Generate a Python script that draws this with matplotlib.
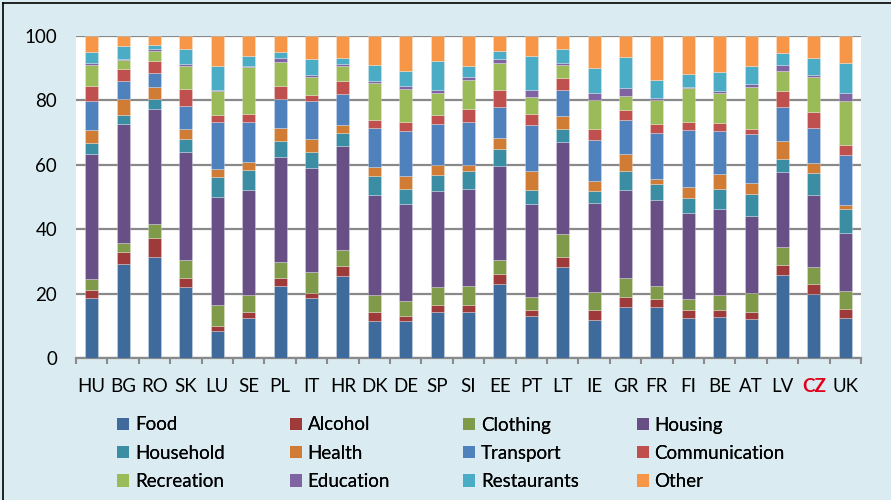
import matplotlib
matplotlib.use("Agg")
import matplotlib.pyplot as plt
from matplotlib.patches import Patch
from matplotlib.lines import Line2D
import numpy as np

countries = ["HU", "BG", "RO", "SK", "LU", "SE", "PL", "IT", "HR", "DK", "DE", "SP", "SI",
             "EE", "PT", "LT", "IE", "GR", "FR", "FI", "BE", "AT", "LV", "CZ", "UK"]

food          = [18.6, 29.2, 31.3, 21.9, 8.5, 12.5, 22.4, 18.6, 25.5, 11.5, 11.4, 14.3, 14.3,
                 23.1, 13.1, 28.3, 11.9, 15.8, 15.7, 12.5, 12.8, 12.0, 25.8, 20.0, 12.4]
alcohol       = [2.6, 3.7, 5.8, 2.9, 1.4, 1.9, 2.4, 1.6, 3.0, 2.7, 1.5, 2.1, 2.1,
                 3.0, 1.9, 3.1, 3.0, 3.1, 2.5, 2.3, 2.1, 2.3, 3.0, 3.0, 2.8]
clothing      = [3.2, 2.7, 4.4, 5.5, 6.4, 5.0, 5.1, 6.4, 5.1, 5.3, 4.7, 5.5, 5.9,
                 4.2, 3.8, 7.0, 5.6, 5.9, 4.0, 3.6, 4.6, 5.9, 5.5, 5.2, 5.7]
housing       = [39.0, 37.1, 35.8, 33.7, 33.5, 32.8, 32.5, 32.4, 32.2, 31.1, 30.3, 30.0, 30.0,
                 29.3, 29.1, 28.7, 27.7, 27.4, 26.9, 26.6, 26.8, 23.8, 23.5, 22.5, 17.9]
household     = [3.2, 2.8, 3.1, 4.1, 6.4, 6.2, 4.8, 5.0, 4.0, 5.9, 4.5, 4.9, 5.7,
                 5.4, 4.2, 4.0, 3.6, 5.8, 4.9, 4.7, 6.1, 6.9, 3.9, 6.8, 7.4]
health        = [4.0, 4.8, 3.6, 3.0, 2.5, 2.3, 4.3, 3.9, 2.6, 2.7, 4.0, 3.2, 1.9,
                 3.3, 5.8, 4.1, 3.1, 5.4, 1.6, 3.3, 4.8, 3.4, 5.5, 2.9, 1.3]
transport     = [9.0, 5.5, 4.5, 7.2, 14.6, 12.4, 8.9, 11.7, 9.6, 12.2, 14.1, 12.5, 13.4,
                 9.7, 14.5, 8.0, 12.8, 10.4, 14.1, 17.6, 13.1, 15.2, 10.8, 11.1, 15.5]
communication = [4.9, 4.0, 3.8, 5.1, 2.0, 2.7, 4.1, 2.0, 4.0, 2.4, 2.6, 3.0, 4.0,
                 5.2, 3.3, 3.8, 3.4, 3.3, 2.8, 2.7, 2.5, 1.5, 4.7, 4.8, 3.0]
recreation    = [6.4, 2.6, 3.1, 7.3, 7.4, 14.4, 7.4, 5.6, 4.6, 11.5, 10.5, 6.8, 9.1,
                 8.4, 5.4, 3.9, 9.1, 4.1, 7.7, 10.4, 9.4, 13.0, 6.5, 10.9, 13.7]
education     = [0.6, 0.5, 0.5, 0.5, 0.4, 0.3, 1.1, 0.7, 0.6, 0.6, 0.9, 0.8, 0.7,
                 1.3, 2.1, 0.5, 1.9, 2.7, 0.5, 0.5, 0.5, 0.9, 1.7, 0.5, 2.4]
restaurants   = [3.3, 4.0, 1.1, 4.8, 7.6, 3.3, 2.0, 5.0, 2.0, 5.0, 4.6, 9.2, 3.6,
                 2.5, 10.6, 4.5, 8.0, 9.6, 5.5, 3.9, 6.1, 5.8, 3.8, 5.5, 9.3]
other         = [5.2, 3.1, 3.0, 4.0, 9.3, 6.2, 5.0, 7.1, 6.8, 9.1, 10.9, 7.7, 9.3,
                 4.6, 6.2, 4.1, 9.9, 6.5, 13.8, 11.9, 11.2, 9.3, 5.3, 6.8, 8.6]

categories = ["Food", "Alcohol", "Clothing", "Housing", "Household", "Health",
              "Transport", "Communication", "Recreation", "Education", "Restaurants", "Other"]
series = [food, alcohol, clothing, housing, household, health,
          transport, communication, recreation, education, restaurants, other]
colors = ["#3F6A9C", "#9E3B3A", "#7F9A48", "#684F86", "#3A8DA3", "#D07C35",
          "#4F81BD", "#C0504D", "#9BBB59", "#8064A2", "#4BACC6", "#F79646"]

yticks = [0, 20, 40, 60, 80, 100]

plt.rcParams["font.family"] = ["Lato", "DejaVu Sans"]

W, H = 891, 500
fig = plt.figure(figsize=(W / 100, H / 100), dpi=100)
fig.patch.set_facecolor("#DAECF2")

ax = fig.add_axes([76 / W, 1 - 358 / H, (861 - 76) / W, (358 - 35.7) / H])
ax.set_facecolor("white")

x = np.arange(len(countries))
bottom = np.zeros(len(countries))
for vals, col, name in zip(series, colors, categories):
    vals = np.asarray(vals)
    ax.bar(x, vals, width=0.41, bottom=bottom, color=col, label=name,
           edgecolor=(1, 1, 1, 0.35), linewidth=0.5, zorder=3)
    bottom += vals

ax.set_xlim(-0.5, len(countries) - 0.5)
ax.set_ylim(0, 100)
ax.set_yticks(yticks)
ax.set_yticklabels([str(v) for v in yticks], fontsize=13.5)
ax.tick_params(axis="y", length=0, pad=13.5)
ax.yaxis.grid(True, color="#898989", linewidth=1.6, zorder=0)
ax.set_axisbelow(True)

# boundary ticks between categories, labels centred on the bars
ax.set_xticks(np.arange(-0.5, len(countries), 1.0))
ax.set_xticklabels([])
ax.tick_params(axis="x", which="major", length=4, width=1.5, color="#898989")
ax.set_xticks(x, minor=True)
ax.set_xticklabels(countries, minor=True, fontsize=13.5)
ax.tick_params(axis="x", which="minor", length=0, pad=14.5)
for lab in ax.get_xticklabels(minor=True):
    if lab.get_text() == "CZ":
        lab.set_color("#E3001A")
        lab.set_fontweight("bold")

for s in ["left", "right", "top"]:
    ax.spines[s].set_visible(False)
ax.spines["bottom"].set_color("#898989")
ax.spines["bottom"].set_linewidth(1.6)

# legend laid out as four columns of three entries
col_x = [117.3, 290, 463.3, 636.7]
for j in range(4):
    idx = [j, j + 4, j + 8]
    handles = [Patch(facecolor=colors[i], edgecolor="none") for i in idx]
    labels = [categories[i] for i in idx]
    leg = fig.legend(handles, labels, loc="upper left",
                     bbox_to_anchor=(col_x[j] / W, 1 - 416.5 / H),
                     frameon=False, fontsize=13.5, handlelength=0.64, handleheight=0.64,
                     handletextpad=0.3, labelspacing=0.6, borderaxespad=0, borderpad=0)
    fig.add_artist(leg)

# outer frame edges
fig.add_artist(Line2D([2.5 / W, 2.5 / W], [0, 1 - 3 / H], color="black", linewidth=1.2,
                      transform=fig.transFigure))
fig.add_artist(Line2D([2.5 / W, 1], [1 - 3 / H, 1 - 3 / H], color="black", linewidth=1.2,
                      transform=fig.transFigure))

fig.savefig("out.png", dpi=100, facecolor=fig.get_facecolor())
